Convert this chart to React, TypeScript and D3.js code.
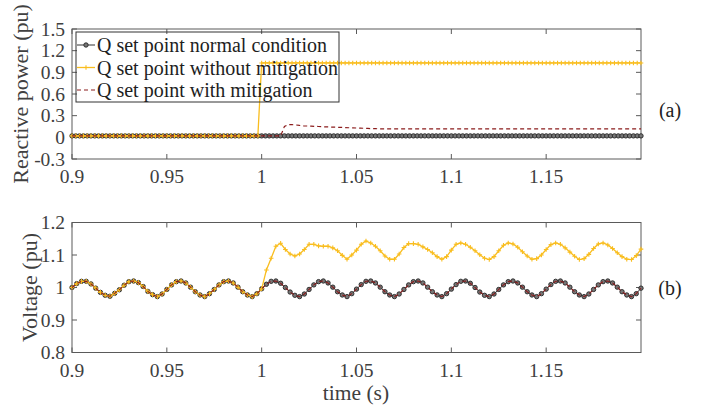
import React from 'react';
import * as d3 from 'd3';

// sample grids (start time, step) for the two panels
const qStart = 0.9;
const qStep = 0.002;
const vStart = 0.9;
const vStep = 0.0025;

// (a) reactive power set points, pu
const qNormal = [
  0.02, 0.02, 0.02, 0.02, 0.02, 0.02, 0.02, 0.02, 0.02, 0.02, 0.02, 0.02, 0.02, 0.02, 0.02,
  0.02, 0.02, 0.02, 0.02, 0.02, 0.02, 0.02, 0.02, 0.02, 0.02, 0.02, 0.02, 0.02, 0.02, 0.02,
  0.02, 0.02, 0.02, 0.02, 0.02, 0.02, 0.02, 0.02, 0.02, 0.02, 0.02, 0.02, 0.02, 0.02, 0.02,
  0.02, 0.02, 0.02, 0.02, 0.02, 0.02, 0.02, 0.02, 0.02, 0.02, 0.02, 0.02, 0.02, 0.02, 0.02,
  0.02, 0.02, 0.02, 0.02, 0.02, 0.02, 0.02, 0.02, 0.02, 0.02, 0.02, 0.02, 0.02, 0.02, 0.02,
  0.02, 0.02, 0.02, 0.02, 0.02, 0.02, 0.02, 0.02, 0.02, 0.02, 0.02, 0.02, 0.02, 0.02, 0.02,
  0.02, 0.02, 0.02, 0.02, 0.02, 0.02, 0.02, 0.02, 0.02, 0.02, 0.02, 0.02, 0.02, 0.02, 0.02,
  0.02, 0.02, 0.02, 0.02, 0.02, 0.02, 0.02, 0.02, 0.02, 0.02, 0.02, 0.02, 0.02, 0.02, 0.02,
  0.02, 0.02, 0.02, 0.02, 0.02, 0.02, 0.02, 0.02, 0.02, 0.02, 0.02, 0.02, 0.02, 0.02, 0.02,
  0.02, 0.02, 0.02, 0.02, 0.02, 0.02, 0.02, 0.02, 0.02, 0.02, 0.02, 0.02, 0.02, 0.02, 0.02,
  0.02,
];

const qWithout = [
  0.02, 0.02, 0.02, 0.02, 0.02, 0.02, 0.02, 0.02, 0.02, 0.02,
  0.02, 0.02, 0.02, 0.02, 0.02, 0.02, 0.02, 0.02, 0.02, 0.02,
  0.02, 0.02, 0.02, 0.02, 0.02, 0.02, 0.02, 0.02, 0.02, 0.02,
  0.02, 0.02, 0.02, 0.02, 0.02, 0.02, 0.02, 0.02, 0.02, 0.02,
  0.02, 0.02, 0.02, 0.02, 0.02, 0.02, 0.02, 0.02, 0.02, 0.02,
  1.03, 1.03, 1.03, 1.03, 1.03, 1.03, 1.03, 1.03, 1.03, 1.03,
  1.03, 1.03, 1.03, 1.03, 1.03, 1.03, 1.03, 1.03, 1.03, 1.03,
  1.03, 1.03, 1.03, 1.03, 1.03, 1.03, 1.03, 1.03, 1.03, 1.03,
  1.03, 1.03, 1.03, 1.03, 1.03, 1.03, 1.03, 1.03, 1.03, 1.03,
  1.03, 1.03, 1.03, 1.03, 1.03, 1.03, 1.03, 1.03, 1.03, 1.03,
  1.03, 1.03, 1.03, 1.03, 1.03, 1.03, 1.03, 1.03, 1.03, 1.03,
  1.03, 1.03, 1.03, 1.03, 1.03, 1.03, 1.03, 1.03, 1.03, 1.03,
  1.03, 1.03, 1.03, 1.03, 1.03, 1.03, 1.03, 1.03, 1.03, 1.03,
  1.03, 1.03, 1.03, 1.03, 1.03, 1.03, 1.03, 1.03, 1.03, 1.03,
  1.03, 1.03, 1.03, 1.03, 1.03, 1.03, 1.03, 1.03, 1.03, 1.03,
  1.03,
];

const qWith = [
  0.02, 0.02, 0.02, 0.02, 0.02, 0.02, 0.02, 0.02, 0.02, 0.02,
  0.02, 0.02, 0.02, 0.02, 0.02, 0.02, 0.02, 0.02, 0.02, 0.02,
  0.02, 0.02, 0.02, 0.02, 0.02, 0.02, 0.02, 0.02, 0.02, 0.02,
  0.02, 0.02, 0.02, 0.02, 0.02, 0.02, 0.02, 0.02, 0.02, 0.02,
  0.02, 0.02, 0.02, 0.02, 0.02, 0.02, 0.02, 0.02, 0.02, 0.02,
  0.02, 0.02, 0.02, 0.02, 0.02, 0.02,
  0.15, 0.175, 0.175, 0.172, 0.165, 0.16, 0.157, 0.155, 0.152, 0.15,
  0.147, 0.145, 0.143, 0.141, 0.139, 0.137, 0.135, 0.133, 0.131, 0.129,
  0.127, 0.125, 0.123, 0.121, 0.12,
  0.118, 0.118, 0.118, 0.118, 0.118, 0.118, 0.118, 0.118, 0.118, 0.118,
  0.117, 0.117, 0.117, 0.117, 0.117, 0.117, 0.117, 0.117, 0.117, 0.117,
  0.116, 0.116, 0.116, 0.116, 0.116, 0.116, 0.116, 0.116, 0.116, 0.116,
  0.116, 0.116, 0.116, 0.116, 0.116, 0.116, 0.116, 0.116, 0.116, 0.116,
  0.116, 0.116, 0.116, 0.116, 0.116, 0.116, 0.116, 0.116, 0.116, 0.116,
  0.116, 0.116, 0.116, 0.116, 0.116, 0.116, 0.116, 0.116, 0.116, 0.116,
  0.116, 0.116, 0.116, 0.116, 0.116, 0.116, 0.116, 0.116, 0.116, 0.116,
];

// (b) voltage, pu
const vNormal = [
  1.0, 1.012, 1.019, 1.019, 1.011, 0.998, 0.985, 0.976, 0.973, 0.982,
  0.993, 1.007, 1.018, 1.02, 1.015, 1.003, 0.988, 0.978, 0.972, 0.98,
  0.994, 1.008, 1.018, 1.02, 1.014, 1.001, 0.987, 0.977, 0.972, 0.981,
  0.994, 1.008, 1.018, 1.02, 1.014, 1.001, 0.987, 0.977, 0.972, 0.981,
  0.996, 1.01, 1.019, 1.02, 1.013, 1.0, 0.986, 0.976, 0.972, 0.98,
  0.994, 1.008, 1.018, 1.02, 1.014, 1.001, 0.987, 0.977, 0.972, 0.981,
  0.995, 1.009, 1.019, 1.02, 1.014, 1.001, 0.987, 0.977, 0.972, 0.98,
  0.994, 1.008, 1.018, 1.02, 1.014, 1.001, 0.987, 0.977, 0.972, 0.981,
  0.995, 1.009, 1.019, 1.02, 1.013, 1.0, 0.986, 0.976, 0.972, 0.98,
  0.994, 1.008, 1.018, 1.02, 1.014, 1.001, 0.987, 0.977, 0.972, 0.981,
  0.995, 1.009, 1.019, 1.02, 1.014, 1.001, 0.987, 0.977, 0.972, 0.98,
  0.994, 1.008, 1.018, 1.02, 1.014, 1.001, 0.987, 0.977, 0.972, 0.981,
  0.998,
];

const vWithout = [
  1.0, 1.012, 1.019, 1.019, 1.011, 0.998, 0.985, 0.976, 0.973, 0.982,
  0.993, 1.007, 1.018, 1.02, 1.015, 1.003, 0.988, 0.978, 0.972, 0.98,
  0.994, 1.008, 1.018, 1.02, 1.014, 1.001, 0.987, 0.977, 0.972, 0.981,
  0.994, 1.008, 1.018, 1.02, 1.014, 1.001, 0.987, 0.977, 0.972, 0.981,
  0.996, 1.054, 1.09, 1.127, 1.136, 1.117, 1.103, 1.097, 1.103, 1.117,
  1.133, 1.133, 1.128, 1.127, 1.127, 1.122, 1.113, 1.099, 1.087, 1.1,
  1.115, 1.133, 1.143, 1.137, 1.127, 1.113, 1.097, 1.087, 1.087, 1.103,
  1.123, 1.135, 1.135, 1.133, 1.125, 1.117, 1.107, 1.095, 1.087, 1.095,
  1.115, 1.133, 1.137, 1.133, 1.124, 1.113, 1.101, 1.09, 1.086, 1.095,
  1.113, 1.13, 1.137, 1.134, 1.124, 1.11, 1.097, 1.087, 1.089, 1.1,
  1.117, 1.132, 1.137, 1.133, 1.122, 1.109, 1.096, 1.086, 1.089, 1.102,
  1.12, 1.134, 1.137, 1.131, 1.12, 1.107, 1.095, 1.087, 1.086, 1.098,
  1.118,
];

// with mitigation the voltage lies on top of the normal-condition trace
const vWith = vNormal;

const xTicks = [0.9, 0.95, 1, 1.05, 1.1, 1.15];
const xTickLabels = ['0.9', '0.95', '1', '1.05', '1.1', '1.15'];
const qTicks = [-0.3, 0, 0.3, 0.6, 0.9, 1.2, 1.5];
const qTickLabels = ['-0.3', '0', '0.3', '0.6', '0.9', '1.2', '1.5'];
const vTicks = [0.8, 0.9, 1, 1.1, 1.2];
const vTickLabels = ['0.8', '0.9', '1', '1.1', '1.2'];
const legendLabels = [
  'Q set point normal condition',
  'Q set point without mitigation',
  'Q set point with mitigation',
];

const FONT = '"Liberation Serif", "Times New Roman", serif';
const AXIS = '#5a5a5a';
const TEXT = '#404040';
const BLACK = '#333333';
const YELLOW = '#F9BD1E';
const RED = '#8B1C1C';

const x = d3.scaleLinear().domain([0.9, 1.2]).range([72, 641]);

type Box = { top: number; bottom: number };

const Circles = ({ pts }: { pts: [number, number][] }) => (
  <g>
    {pts.map((p, i) => (
      <circle key={i} cx={p[0]} cy={p[1]} r={2.2} fill="#777" stroke="#262626" strokeWidth={0.9} />
    ))}
  </g>
);

const Pluses = ({ pts }: { pts: [number, number][] }) => (
  <g stroke={YELLOW} strokeWidth={1.1}>
    {pts.map((p, i) => (
      <path key={i} d={`M${p[0] - 2.3},${p[1]}h4.6M${p[0]},${p[1] - 2.3}v4.6`} />
    ))}
  </g>
);

const toPts = (values: number[], start: number, step: number, y: d3.ScaleLinear<number, number>) =>
  values.map((v, i) => [x(start + i * step), y(v)] as [number, number]);

const line = d3.line<[number, number]>();

const Frame = ({ box, y, ticks, labels }: { box: Box; y: d3.ScaleLinear<number, number>; ticks: number[]; labels: string[] }) => {
  const [x0, x1] = x.range();
  return (
    <g>
      <rect x={x0} y={box.top} width={x1 - x0} height={box.bottom - box.top} fill="none" stroke={AXIS} strokeWidth={1} />
      {xTicks.map((t, i) => (
        <g key={'x' + i}>
          <line x1={x(t)} x2={x(t)} y1={box.bottom} y2={box.bottom - 5} stroke={AXIS} />
          <line x1={x(t)} x2={x(t)} y1={box.top} y2={box.top + 5} stroke={AXIS} />
          <text x={x(t)} y={box.bottom + 24} textAnchor="middle" fontSize={19.5} fill={TEXT} fontFamily={FONT}>
            {xTickLabels[i]}
          </text>
        </g>
      ))}
      {ticks.map((t, i) => (
        <g key={'y' + i}>
          <line x1={x0} x2={x0 + 5} y1={y(t)} y2={y(t)} stroke={AXIS} />
          <line x1={x1} x2={x1 - 5} y1={y(t)} y2={y(t)} stroke={AXIS} />
          <text x={65} y={y(t) + 6.5} textAnchor="end" fontSize={19.5} fill={TEXT} fontFamily={FONT}>
            {labels[i]}
          </text>
        </g>
      ))}
    </g>
  );
};

export default function App() {
  const topBox = { top: 29, bottom: 159 };
  const botBox = { top: 222.5, bottom: 352.5 };
  const yQ = d3.scaleLinear().domain([-0.3, 1.5]).range([topBox.bottom, topBox.top]);
  const yV = d3.scaleLinear().domain([0.8, 1.2]).range([botBox.bottom, botBox.top]);

  const qN = toPts(qNormal, qStart, qStep, yQ);
  const qWo = toPts(qWithout, qStart, qStep, yQ);
  const qW = toPts(qWith, qStart, qStep, yQ);
  const vN = toPts(vNormal, vStart, vStep, yV);
  const vWo = toPts(vWithout, vStart, vStep, yV);
  const vW = toPts(vWith, vStart, vStep, yV);

  const legendRows = [52, 74.5, 97];

  return (
    <svg width={702} height={411} style={{ position: 'absolute', left: 0, top: 0, background: '#fff' }}>
      <rect width={702} height={411} fill="#fff" />

      {/* panel (a) */}
      <Frame box={topBox} y={yQ} ticks={qTicks} labels={qTickLabels} />
      <path d={line(qN) || ''} fill="none" stroke={BLACK} strokeWidth={1} />
      <Circles pts={qN} />
      <path d={line(qWo) || ''} fill="none" stroke={YELLOW} strokeWidth={1.3} />
      <Pluses pts={qWo} />
      <path d={line(qW) || ''} fill="none" stroke={RED} strokeWidth={1.2} strokeDasharray="4,3" />

      {/* legend */}
      <rect x={76} y={32} width={263} height={70} fill="none" stroke="#333" strokeWidth={1} />
      {legendLabels.map((lab, i) => {
        const cy = legendRows[i] - 7;
        return (
          <g key={lab}>
            {i === 0 && (
              <>
                <line x1={77} x2={95} y1={cy} y2={cy} stroke={BLACK} strokeWidth={1} />
                <Circles pts={[[86, cy]]} />
              </>
            )}
            {i === 1 && (
              <>
                <line x1={77} x2={95} y1={cy} y2={cy} stroke={YELLOW} strokeWidth={1.3} />
                <Pluses pts={[[86, cy]]} />
              </>
            )}
            {i === 2 && <line x1={77} x2={95} y1={cy} y2={cy} stroke={RED} strokeWidth={1.2} strokeDasharray="4,3" />}
            <text x={97} y={legendRows[i]} fontSize={20} fill="#1e1e1e" fontFamily={FONT}>
              {lab}
            </text>
          </g>
        );
      })}

      {/* panel (b) */}
      <Frame box={botBox} y={yV} ticks={vTicks} labels={vTickLabels} />
      <path d={line(vN) || ''} fill="none" stroke={BLACK} strokeWidth={1} />
      <Circles pts={vN} />
      <path d={line(vWo) || ''} fill="none" stroke={YELLOW} strokeWidth={1.3} />
      <Pluses pts={vWo} />
      <path d={line(vW) || ''} fill="none" stroke={RED} strokeWidth={1.1} strokeDasharray="4,3" />

      {/* axis titles and panel tags */}
      <text transform="translate(28,94) rotate(-90)" textAnchor="middle" fontSize={22} fill={TEXT} fontFamily={FONT}>
        Reactive power (pu)
      </text>
      <text transform="translate(37,287.5) rotate(-90)" textAnchor="middle" fontSize={22} fill={TEXT} fontFamily={FONT}>
        Voltage (pu)
      </text>
      <text x={356} y={400} textAnchor="middle" fontSize={21.5} fill={TEXT} fontFamily={FONT}>
        time (s)
      </text>
      <text x={670} y={117} textAnchor="middle" fontSize={20} fill="#222" fontFamily={FONT}>
        (a)
      </text>
      <text x={670} y={295} textAnchor="middle" fontSize={20} fill="#222" fontFamily={FONT}>
        (b)
      </text>
    </svg>
  );
}
